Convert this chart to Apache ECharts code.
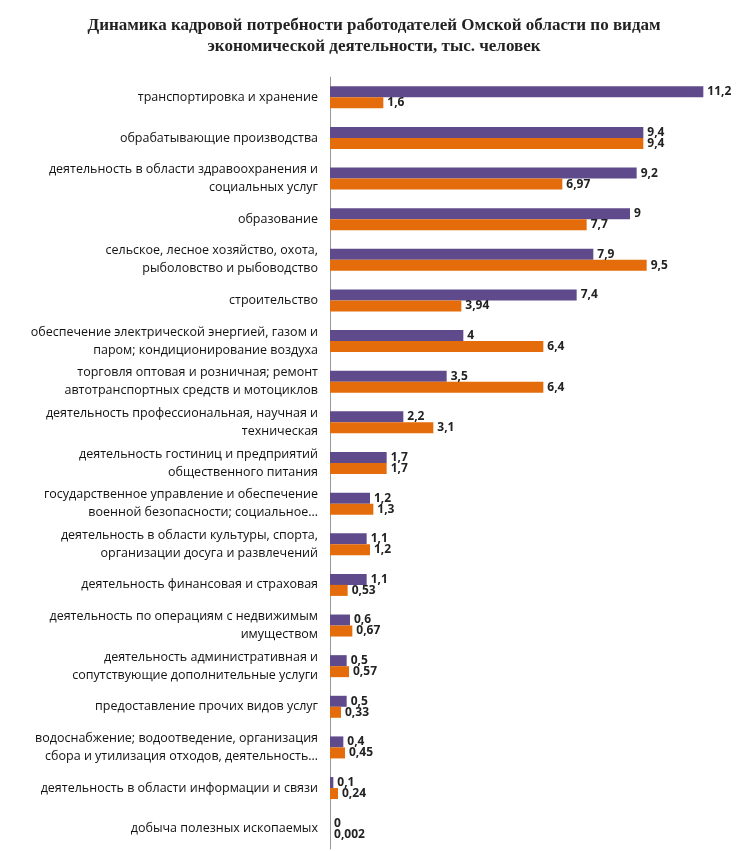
<!DOCTYPE html>
<html>
<head>
<meta charset="utf-8">
<script src="https://cdn.jsdelivr.net/npm/echarts@6/dist/echarts.min.js"></script>
<style>
  html, body { margin: 0; padding: 0; background: #fff; }
  #charts { width: 748px; height: 851px; }
</style>
</head>
<body>
<div id="charts"></div>
<script>
const categories = [
  'транспортировка и хранение',
  'обрабатывающие производства',
  'деятельность в области здравоохранения и\nсоциальных услуг',
  'образование',
  'сельское, лесное хозяйство, охота,\nрыболовство и рыбоводство',
  'строительство',
  'обеспечение электрической энергией, газом и\nпаром; кондиционирование воздуха',
  'торговля оптовая и розничная; ремонт\nавтотранспортных средств и мотоциклов',
  'деятельность профессиональная, научная и\nтехническая',
  'деятельность гостиниц и предприятий\nобщественного питания',
  'государственное управление и обеспечение\nвоенной безопасности; социальное…',
  'деятельность в области культуры, спорта,\nорганизации досуга и развлечений',
  'деятельность финансовая и страховая',
  'деятельность по операциям с недвижимым\nимуществом',
  'деятельность административная и\nсопутствующие дополнительные услуги',
  'предоставление прочих видов услуг',
  'водоснабжение; водоотведение, организация\nсбора и утилизация отходов, деятельность…',
  'деятельность в области информации и связи',
  'добыча полезных ископаемых'
];
const purpleValues = [11.2, 9.4, 9.2, 9, 7.9, 7.4, 4, 3.5, 2.2, 1.7, 1.2, 1.1, 1.1, 0.6, 0.5, 0.5, 0.4, 0.1, 0];
const orangeValues = [1.6, 9.4, 6.97, 7.7, 9.5, 3.94, 6.4, 6.4, 3.1, 1.7, 1.3, 1.2, 0.53, 0.67, 0.57, 0.33, 0.45, 0.24, 0.002];

const myChart = echarts.init(document.getElementById('charts'));
const labelStyle = {
  show: true,
  position: 'right',
  distance: 4,
  color: '#222',
  fontWeight: 'bold',
  fontSize: 12,
  fontFamily: 'Open Sans',
  formatter: p => String(p.value).replace('.', ',')
};
const option = {
  animation: false,
  title: {
    text: 'Динамика кадровой потребности работодателей Омской области по видам\nэкономической деятельности, тыс. человек',
    left: 'center',
    top: 10,
    textStyle: { fontFamily: 'Liberation Serif', fontWeight: 'bold', fontSize: 17, color: '#222', lineHeight: 21 }
  },
  grid: { left: 330, right: 18, top: 77, bottom: 2 },
  xAxis: { type: 'value', min: 0, max: 12, show: false },
  yAxis: {
    type: 'category',
    inverse: true,
    data: categories,
    axisTick: { show: false },
    axisLine: { show: true, lineStyle: { color: '#999' } },
    axisLabel: { color: '#111', fontSize: 12.5, fontFamily: 'Open Sans', lineHeight: 18, margin: 12, align: 'right' }
  },
  series: [
    { name: 'purple', type: 'bar', data: purpleValues, barWidth: 11, barGap: '0%', itemStyle: { color: '#5f4b8b' }, label: labelStyle },
    { name: 'orange', type: 'bar', data: orangeValues, barWidth: 11, barGap: '0%', itemStyle: { color: '#e46c0a' }, label: labelStyle }
  ]
};
myChart.setOption(option);
</script>
</body>
</html>
